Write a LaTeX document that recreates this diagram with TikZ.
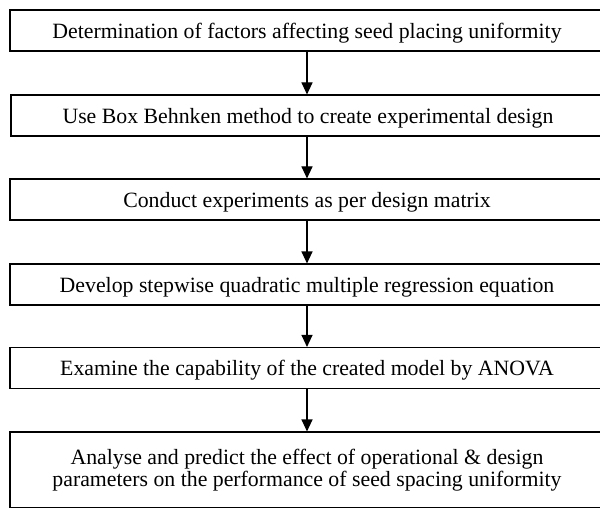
\documentclass[tikz,border=0pt]{standalone}
\usepackage{fontspec}
\setmainfont{Liberation Serif}
\usetikzlibrary{arrows.meta}
\tikzset{
  stage/.style={draw=black, line width=1.1pt, minimum width=594pt, minimum height=41pt,
    inner sep=0pt, font=\fontsize{21.8}{22.5}\selectfont, align=center},
  oneline/.style={stage, text depth=0pt},
  flow/.style={line width=1.1pt, -{Triangle[length=12pt,width=11pt]}}
}
\begin{document}
\begin{tikzpicture}[x=1pt,y=-1pt]
\useasboundingbox (0,0) rectangle (600,508);
\clip (0,0) rectangle (600,508);
\node[oneline] (s1) at (307,30.5) {Determination of factors affecting seed placing uniformity};
\node[oneline] (s2) at (308,115.5) {Use Box Behnken method to create experimental design};
\node[oneline] (s3) at (307,199.5) {Conduct experiments as per design matrix};
\node[oneline] (s4) at (307,284.5) {Develop stepwise quadratic multiple regression equation};
\node[oneline] (s5) at (307,368) {Examine the capability of the created model by ANOVA};
\node[stage, minimum height=76pt] (s6) at (307,470) {Analyse and predict the effect of operational \& design\\parameters on the performance of seed spacing uniformity};
\draw[flow] (s1.south -| 307,0) -- (s2.north -| 307,0);
\draw[flow] (s2.south -| 307,0) -- (s3.north -| 307,0);
\draw[flow] (s3.south -| 307,0) -- (s4.north -| 307,0);
\draw[flow] (s4.south -| 307,0) -- (s5.north -| 307,0);
\draw[flow] (s5.south -| 307,0) -- (s6.north -| 307,0);
\end{tikzpicture}
\end{document}
